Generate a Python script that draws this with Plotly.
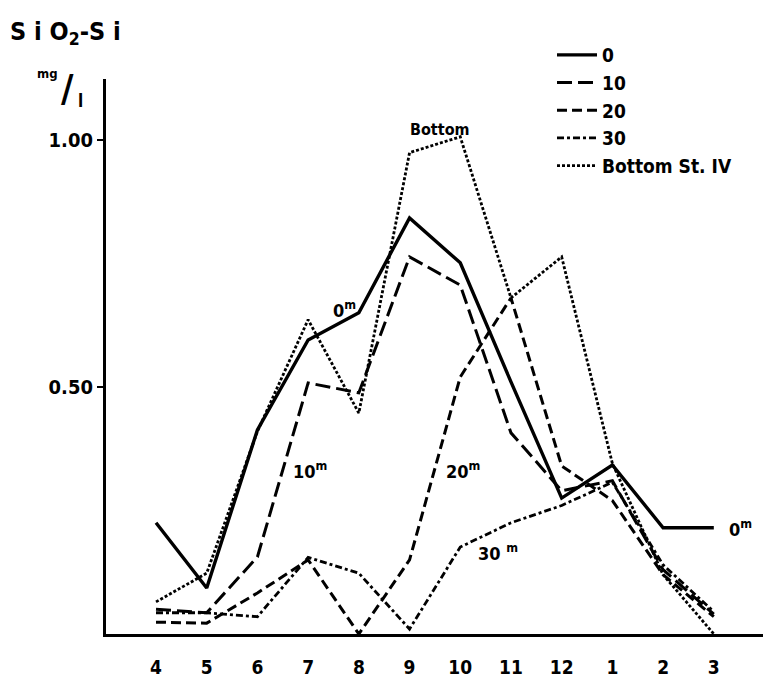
import plotly.graph_objects as go

months = ["4", "5", "6", "7", "8", "9", "10", "11", "12", "1", "2", "3"]
d0 = [0.225, 0.093, 0.413, 0.595, 0.650, 0.842, 0.751, 0.51, 0.275, 0.342, 0.215, 0.215]
d10 = [0.05, 0.043, 0.156, 0.508, 0.488, 0.763, 0.706, 0.407, 0.29, 0.31, 0.13, 0.04]
d20 = [0.024, 0.022, 0.083, 0.150, 0.0, 0.150, 0.52, 0.68, 0.34, 0.27, 0.12, 0.035]
d30 = [0.043, 0.043, 0.035, 0.155, 0.123, 0.01, 0.176, 0.225, 0.26, 0.307, 0.14, 0.045]
dB = [0.065, 0.123, 0.41, 0.636, 0.447, 0.974, 1.006, 0.68, 0.763, 0.345, 0.12, 0.0]

series = [
    ("0", d0, "solid", 3.4),
    ("10", d10, "15px,6px", 3.0),
    ("20", d20, "10px,5px", 3.0),
    ("30", d30, "7px,3px,3px,3px", 2.8),
    ("Bottom St. IV", dB, "3px,2px", 2.8),
]

FONT = "DejaVu Sans Condensed, Liberation Sans, Arial, sans-serif"
xpos = list(range(len(months)))

fig = go.Figure()
for name, vals, dash, w in series:
    fig.add_trace(go.Scatter(
        x=xpos, y=vals, mode="lines", name="<b>" + name + "</b>",
        line=dict(color="black", width=w, dash=dash),
    ))

W, H = 763, 689
L, R, T, B = 106, 0, 79, 55
pw, ph = W - L - R, H - T - B


def px(xp, yp):
    return (xp - L) / pw, (H - B - yp) / ph


annots = []


def add_text(text, xp, yp, size, xanchor="center"):
    x, y = px(xp, yp)
    annots.append(dict(text="<b>" + text + "</b>", x=x, y=y, xref="paper", yref="paper",
                       showarrow=False, xanchor=xanchor, yanchor="middle",
                       font=dict(family=FONT, size=size, color="black")))


add_text("S i O<sub>2</sub>-S i", 8, 33, 25, xanchor="left")
add_text("mg", 47, 73, 13)
add_text("/", 67, 88, 38)
add_text("l", 80, 101, 17)
add_text("0<sup>m</sup>", 344, 309, 18)
add_text("10<sup>m</sup>", 310, 470, 18)
add_text("20<sup>m</sup>", 463, 470, 18)
add_text("30 <sup>m</sup>", 498, 552, 18)
add_text("0<sup>m</sup>", 740, 528, 18)
add_text("Bottom", 440, 130, 16)

fig.update_layout(
    width=W, height=H,
    margin=dict(l=L, r=R, t=T, b=B, pad=0),
    paper_bgcolor="white", plot_bgcolor="white",
    showlegend=True,
    legend=dict(
        x=px(552, 0)[0], y=px(0, 36)[1], xanchor="left", yanchor="top",
        font=dict(family=FONT, size=19, color="black"),
        bgcolor="rgba(0,0,0,0)", tracegroupgap=0, itemwidth=40,
    ),
    annotations=annots,
    xaxis=dict(
        range=[-0.986, 11.97],
        showline=True, linecolor="black", linewidth=3,
        showgrid=False, zeroline=False,
        ticks="outside", ticklen=14, tickcolor="rgba(0,0,0,0)",
        tickmode="array", tickvals=xpos,
        ticktext=["<b>" + m + "</b>" for m in months],
        tickfont=dict(family=FONT, size=19, color="black"),
    ),
    yaxis=dict(
        range=[0, 1.123],
        showline=True, linecolor="black", linewidth=3,
        showgrid=False, zeroline=False,
        ticks="outside", ticklen=6, tickwidth=2, tickcolor="black",
        tickvals=[0.5, 1.0], ticktext=["<b>0.50</b>", "<b>1.00</b>"],
        tickfont=dict(family=FONT, size=20, color="black"),
    ),
)

fig.write_html("out.html")
